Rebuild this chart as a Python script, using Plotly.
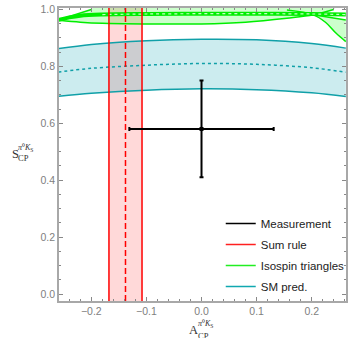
import plotly.graph_objects as go

# ---------------- data ----------------
X_RANGE = [-0.2587, 0.2623]
Y_RANGE = [-0.0246, 1.005]

# Measurement
meas_x = [0.0]
meas_y = [0.58]
meas_xerr = [0.131]
meas_yerr = [0.17]

# Sum rule band
sum_rule_center = -0.138
sum_rule_low = -0.168
sum_rule_high = -0.108

# SM prediction band
sm_x = [-0.26, -0.2, -0.1, 0.0, 0.1, 0.2, 0.262]
sm_upper = [0.862, 0.877, 0.890, 0.895, 0.893, 0.880, 0.864]
sm_center = [0.780, 0.793, 0.804, 0.810, 0.807, 0.795, 0.779]
sm_lower = [0.695, 0.705, 0.716, 0.721, 0.718, 0.707, 0.694]

# Isospin triangles
iso_lobe_lower_x = [-0.26, -0.22, -0.18, -0.1, 0.0, 0.08, 0.155, 0.203, 0.24]
iso_lobe_lower_y = [0.962, 0.955, 0.951, 0.949, 0.949, 0.955, 0.969, 0.981, 1.0]
iso_lobe_upper_x = [-0.26, -0.2, -0.19, 0.26]
iso_lobe_upper_y = [0.963, 1.0, 1.03, 1.03]
iso_band_x = [-0.26, -0.24, -0.22, -0.18, -0.1, 0.0, 0.1, 0.2, 0.262]
iso_band_y = [0.963, 0.972, 0.978, 0.982, 0.984, 0.985, 0.985, 0.984, 0.982]
iso_right_a_x = [0.155, 0.203, 0.225, 0.244, 0.262]
iso_right_a_y = [0.998, 0.981, 0.955, 0.917, 0.887]
iso_right_b_x = [0.203, 0.262]
iso_right_b_y = [0.981, 0.963]

legend_names = ["Measurement", "Sum rule", "Isospin triangles", "SM pred."]
legend_colors = ["#000000", "#ff2020", "#22ee22", "#10a8b0"]

GREEN = "#00ee00"
GREEN_FILL = "rgba(0,255,0,0.2)"
TEAL = "#10a0a8"
TEAL_FILL = "rgba(0,160,176,0.2)"
RED = "#ff0000"
RED_FILL = "rgba(255,0,0,0.15)"

fig = go.Figure()

# Sum rule fill (background)
fig.add_trace(go.Scatter(
    x=[sum_rule_low, sum_rule_low, sum_rule_high, sum_rule_high],
    y=[Y_RANGE[0], Y_RANGE[1], Y_RANGE[1], Y_RANGE[0]],
    fill="toself", fillcolor=RED_FILL, mode="none", showlegend=False, hoverinfo="skip"))

# SM band
fig.add_trace(go.Scatter(x=sm_x, y=sm_lower, mode="lines", line=dict(color=TEAL, width=1.5, shape="spline"),
                         showlegend=False, hoverinfo="skip"))
fig.add_trace(go.Scatter(x=sm_x, y=sm_upper, mode="lines", line=dict(color=TEAL, width=1.5, shape="spline"),
                         fill="tonexty", fillcolor=TEAL_FILL, showlegend=False, hoverinfo="skip"))
fig.add_trace(go.Scatter(x=sm_x, y=sm_center, mode="lines",
                         line=dict(color=TEAL, width=1.5, dash="dot", shape="spline"),
                         showlegend=False, hoverinfo="skip"))

# Isospin triangles
lobe_x = iso_lobe_lower_x + iso_lobe_upper_x[::-1]
lobe_y = iso_lobe_lower_y + iso_lobe_upper_y[::-1]
fig.add_trace(go.Scatter(x=lobe_x, y=lobe_y, fill="toself", fillcolor=GREEN_FILL, mode="none",
                         showlegend=False, hoverinfo="skip"))
right_x = iso_right_b_x + iso_right_a_x[::-1][:-1]
right_y = iso_right_b_y + iso_right_a_y[::-1][:-1]
fig.add_trace(go.Scatter(x=right_x, y=right_y, fill="toself", fillcolor=GREEN_FILL, mode="none",
                         showlegend=False, hoverinfo="skip"))
fig.add_trace(go.Scatter(x=iso_lobe_lower_x, y=iso_lobe_lower_y, mode="lines",
                         line=dict(color=GREEN, width=1.5, shape="spline"), showlegend=False, hoverinfo="skip"))
fig.add_trace(go.Scatter(x=iso_lobe_upper_x[:2], y=iso_lobe_upper_y[:2], mode="lines",
                         line=dict(color=GREEN, width=1.5), showlegend=False, hoverinfo="skip"))
fig.add_trace(go.Scatter(x=iso_right_a_x, y=iso_right_a_y, mode="lines",
                         line=dict(color=GREEN, width=1.5, shape="spline"), showlegend=False, hoverinfo="skip"))
fig.add_trace(go.Scatter(x=iso_right_b_x, y=iso_right_b_y, mode="lines",
                         line=dict(color=GREEN, width=1.5), showlegend=False, hoverinfo="skip"))
fig.add_trace(go.Scatter(x=iso_band_x, y=iso_band_y, mode="lines",
                         line=dict(color=GREEN, width=4, shape="spline"), showlegend=False, hoverinfo="skip"))
fig.add_trace(go.Scatter(x=iso_band_x[3:], y=iso_band_y[3:], mode="lines",
                         line=dict(color="rgba(220,255,220,0.9)", width=1.2, dash="dot", shape="spline"),
                         showlegend=False, hoverinfo="skip"))

# Sum rule lines
for xv, dash in [(sum_rule_low, "solid"), (sum_rule_high, "solid"), (sum_rule_center, "6px,3px")]:
    fig.add_trace(go.Scatter(x=[xv, xv], y=Y_RANGE, mode="lines",
                             line=dict(color=RED, width=1.5, dash=dash), showlegend=False, hoverinfo="skip"))

# Measurement
fig.add_trace(go.Scatter(
    x=meas_x, y=meas_y, mode="markers", marker=dict(color="black", size=4, symbol="square"),
    error_x=dict(type="data", array=meas_xerr, color="black", thickness=2, width=2),
    error_y=dict(type="data", array=meas_yerr, color="black", thickness=2, width=2),
    showlegend=False, hoverinfo="skip"))

# Legend entries
for i, (name, col) in enumerate(zip(legend_names, legend_colors)):
    fig.add_trace(go.Scatter(x=[None], y=[None], mode="lines", name=name,
                             line=dict(color=col, width=1.5), legendgroup=f"g{i}"))

FRAME = "#a8a8a8"
axis_common = dict(
    showline=True, linecolor=FRAME, linewidth=1.5, mirror="allticks",
    ticks="inside", ticklen=4, tickwidth=1, tickcolor="#888888",
    showgrid=False, zeroline=False,
    tickfont=dict(family="Liberation Sans, Arial", size=10.5, color="#808080"),
)
fig.update_xaxes(range=X_RANGE, tickvals=[-0.2, -0.1, 0.0, 0.1, 0.2],
                 ticktext=["\u22120.2", "\u22120.1", "0.0", "0.1", "0.2"],
                 minor=dict(dtick=0.02, tick0=0, ticks="inside", ticklen=2, tickcolor="#888888"),
                 **axis_common)
fig.update_yaxes(range=Y_RANGE, tickvals=[0.0, 0.2, 0.4, 0.6, 0.8, 1.0],
                 ticktext=["0.0", "0.2", "0.4", "0.6", "0.8", "1.0"],
                 minor=dict(dtick=0.05, tick0=0, ticks="inside", ticklen=2, tickcolor="#888888"),
                 **axis_common)

L, R, T, B = 59, 1, 8, 37
W, H = 351, 338
pw, ph = W - L - R, H - T - B


def px(p):
    return (p - L) / pw


def py(p):
    return (H - B - p) / ph


serif = "Liberation Serif, Times New Roman, serif"
ann = []
# y-axis title
ann.append(dict(text="S", x=px(9), y=py(154), xanchor="left", yanchor="middle", font=dict(family=serif, size=12.5, color="#333")))
ann.append(dict(text="CP", x=px(15), y=py(158), xanchor="left", yanchor="middle", font=dict(family=serif, size=8.5, color="#333")))
ann.append(dict(text="<i>\u03c0</i>\u2070<i>K</i><sub>S</sub>", x=px(15), y=py(148), xanchor="left", yanchor="middle",
                font=dict(family=serif, size=8, color="#333")))
# x-axis title
ann.append(dict(text="A", x=px(189), y=py(330), xanchor="left", yanchor="middle", font=dict(family=serif, size=12.5, color="#333")))
ann.append(dict(text="CP", x=px(198), y=py(336), xanchor="left", yanchor="middle", font=dict(family=serif, size=8.5, color="#333")))
ann.append(dict(text="<i>\u03c0</i>\u2070<i>K</i><sub>S</sub>", x=px(198), y=py(324), xanchor="left", yanchor="middle",
                font=dict(family=serif, size=8, color="#333")))
for a in ann:
    a.update(xref="paper", yref="paper", showarrow=False)

fig.update_layout(
    width=W, height=H, margin=dict(l=L, r=R, t=T, b=B),
    plot_bgcolor="white", paper_bgcolor="white",
    annotations=ann,
    legend=dict(x=px(223), y=py(209), xanchor="left", yanchor="top", bgcolor="rgba(0,0,0,0)",
                font=dict(family="Liberation Sans, Arial", size=11.5, color="#222"),
                traceorder="grouped", tracegroupgap=2, itemwidth=30),
    showlegend=True,
)

fig.write_html("out.html", config={"displayModeBar": False},
               post_script="document.body.style.margin='0px';document.body.style.overflow='hidden';")
